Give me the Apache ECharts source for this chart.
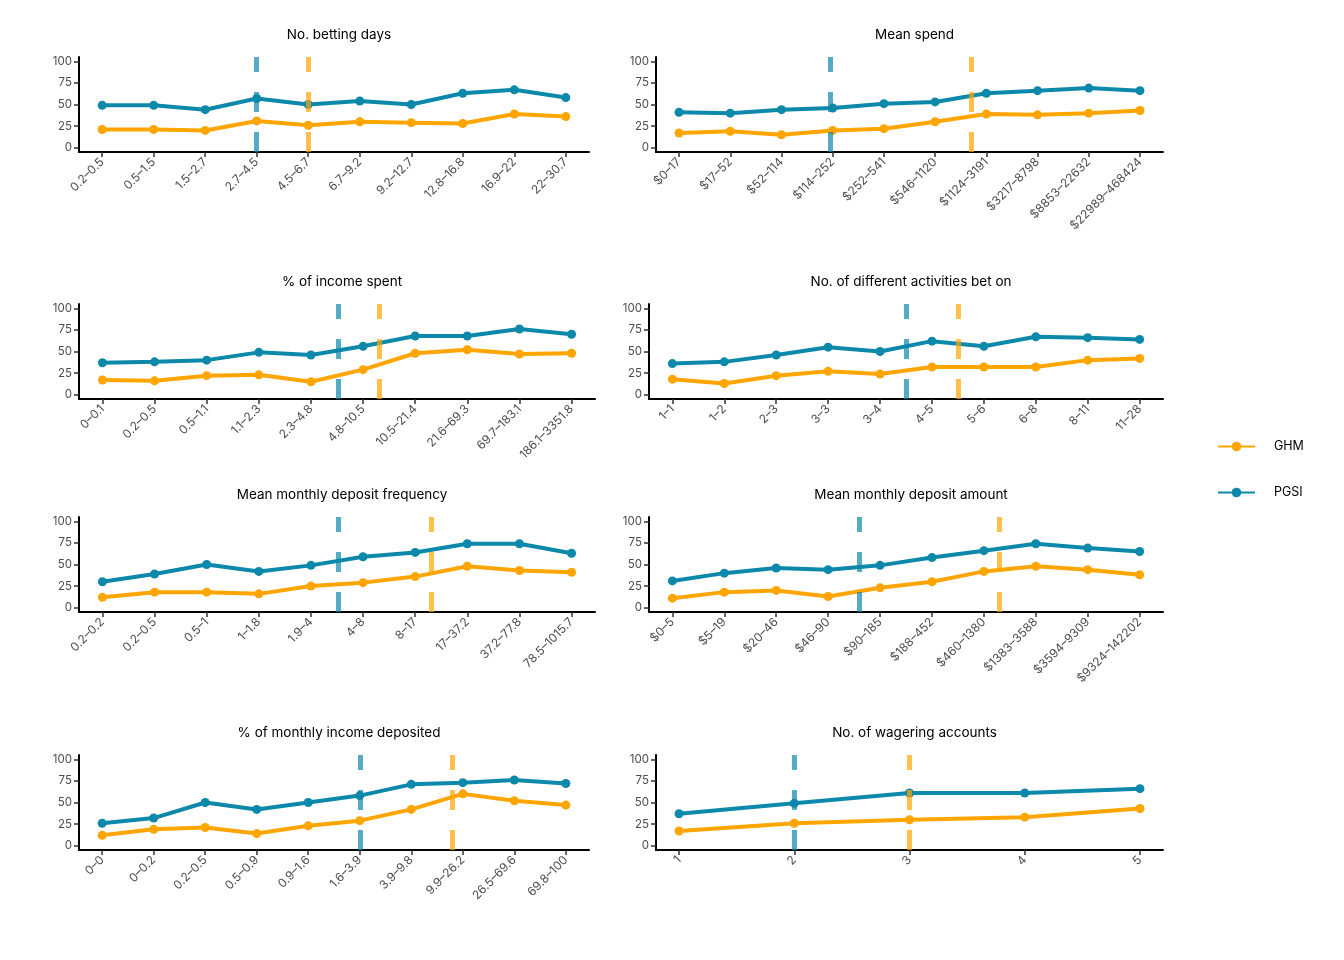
<!DOCTYPE html>
<html><head><meta charset="utf-8">
<script src="https://cdn.jsdelivr.net/npm/echarts@6/dist/echarts.min.js"></script>
<style>html,body{margin:0;padding:0;background:#fff}#c{width:1344px;height:960px}</style>
</head><body><div id="c"></div>
<script>
const titles = ["No. betting days", "Mean spend", "% of income spent", "No. of different activities bet on",
  "Mean monthly deposit frequency", "Mean monthly deposit amount", "% of monthly income deposited", "No. of wagering accounts"];

const cats1 = ["0.2–0.5","0.5–1.5","1.5–2.7","2.7–4.5","4.5–6.7","6.7–9.2","9.2–12.7","12.8–16.8","16.9–22","22–30.7"];
const cats2 = ["$0–17","$17–52","$52–114","$114–252","$252–541","$546–1120","$1124–3191","$3217–8798","$8853–22632","$22989–468424"];
const cats3 = ["0–0.1","0.2–0.5","0.5–1.1","1.1–2.3","2.3–4.8","4.8–10.5","10.5–21.4","21.6–69.3","69.7–183.1","186.1–3351.8"];
const cats4 = ["1–1","1–2","2–3","3–3","3–4","4–5","5–6","6–8","8–11","11–28"];
const cats5 = ["0.2–0.2","0.2–0.5","0.5–1","1–1.8","1.9–4","4–8","8–17","17–37.2","37.2–77.8","78.5–1015.7"];
const cats6 = ["$0–5","$5–19","$20–46","$46–90","$90–185","$188–452","$460–1380","$1383–3588","$3594–9309","$9324–142202"];
const cats7 = ["0–0","0–0.2","0.2–0.5","0.5–0.9","0.9–1.6","1.6–3.9","3.9–9.8","9.9–26.2","26.5–69.6","69.8–100"];
const cats8 = ["1","2","3","4","5"];

const pgsi1 = [49,49,44,57,50,54,50,63,67,58];
const ghm1  = [21,21,20,31,26,30,29,28,39,36];
const pgsi2 = [41,40,44,46,51,53,63,66,69,66];
const ghm2  = [17,19,15,20,22,30,39,38,40,43];
const pgsi3 = [37,38,40,49,46,56,68,68,76,70];
const ghm3  = [17,16,22,23,15,29,48,52,47,48];
const pgsi4 = [36,38,46,55,50,62,56,67,66,64];
const ghm4  = [18,13,22,27,24,32,32,32,40,42];
const pgsi5 = [30,39,50,42,49,59,64,74,74,63];
const ghm5  = [12,18,18,16,25,29,36,48,43,41];
const pgsi6 = [31,40,46,44,49,58,66,74,69,65];
const ghm6  = [11,18,20,13,23,30,42,48,44,38];
const pgsi7 = [26,32,50,42,50,58,71,73,76,72];
const ghm7  = [12,19,21,14,23,29,42,60,52,47];
const pgsi8 = [37,49,61,61,66];
const ghm8  = [17,26,30,33,43];

// cut-off positions (in category index units)
const cutPGSI = [3, 2.95, 4.52, 4.5, 4.52, 3.6, 5.0, 1];
const cutGHM  = [4, 5.7, 5.31, 5.5, 6.3, 6.3, 6.8, 2];

const yTicks = [0, 25, 50, 75, 100];

const panels = [
  {cats: cats1, pgsi: pgsi1, ghm: ghm1},
  {cats: cats2, pgsi: pgsi2, ghm: ghm2},
  {cats: cats3, pgsi: pgsi3, ghm: ghm3},
  {cats: cats4, pgsi: pgsi4, ghm: ghm4},
  {cats: cats5, pgsi: pgsi5, ghm: ghm5},
  {cats: cats6, pgsi: pgsi6, ghm: ghm6},
  {cats: cats7, pgsi: pgsi7, ghm: ghm7},
  {cats: cats8, pgsi: pgsi8, ghm: ghm8}
];

// layout: [left, top, width]
const layout = [[79,57,510],[656,57,507],[79,304,516],[649,304,514],[79,517,516],[649,517,514],[79,755,510],[656,755,507]];
const H = 95;
const FONT = 'Inter, "Noto Sans", sans-serif';
const C_GHM = '#FFA500', C_PGSI = '#0C88AA';
const C_GHM_D = 'rgba(255,165,0,0.7)', C_PGSI_D = 'rgba(12,136,170,0.7)';

const option = {
  animation: false,
  backgroundColor: '#fff',
  textStyle: {fontFamily: FONT},
  title: [], grid: [], xAxis: [], yAxis: [], series: [],
  legend: {
    data: ['GHM', 'PGSI'], orient: 'vertical', left: 1212, top: 435,
    itemWidth: 37, itemHeight: 12, itemGap: 33,
    textStyle: {fontSize: 12.5, color: '#000', fontFamily: FONT, padding: [0,0,0,14]}
  }
};

panels.forEach((p, i) => {
  const [l, t, w] = layout[i];
  const n = p.cats.length;
  const e = 0.05 * (n - 1);
  option.title.push({
    text: titles[i], left: l + w / 2, top: t - 34, textAlign: 'center',
    textStyle: {fontSize: 13.5, fontWeight: 'normal', color: '#000', fontFamily: FONT}
  });
  option.grid.push({left: l, top: t, width: w, height: H, containLabel: false});
  const idx = p.cats.map((_, k) => k);
  option.xAxis.push({
    type: 'value', gridIndex: i, min: -e, max: n - 1 + e,
    splitLine: {show: false},
    axisLine: {show: true, onZero: false, lineStyle: {color: '#000', width: 2}},
    axisTick: {show: true, customValues: idx, length: 5, lineStyle: {color: '#333', width: 1.5}},
    axisLabel: {
      customValues: idx, rotate: 45, fontSize: 12, color: '#4d4d4d', margin: 8, fontFamily: FONT,
      formatter: v => p.cats[Math.round(v)] ?? ''
    }
  });
  option.yAxis.push({
    type: 'value', gridIndex: i, min: -5, max: 105,
    splitLine: {show: false},
    axisLine: {show: true, onZero: false, lineStyle: {color: '#000', width: 2}},
    axisTick: {show: true, customValues: yTicks, length: 5, lineStyle: {color: '#333', width: 1.5}},
    axisLabel: {customValues: yTicks, fontSize: 11.5, color: '#4d4d4d', margin: 7, fontFamily: FONT}
  });
  const mk = (name, vals, color, dcolor, cut) => ({
    name, type: 'line', xAxisIndex: i, yAxisIndex: i,
    data: vals.map((v, k) => [k, v]),
    symbol: 'circle', symbolSize: 9,
    lineStyle: {color, width: 4}, itemStyle: {color},
    markLine: {
      silent: true, symbol: ['none', 'none'], label: {show: false},
      lineStyle: {color: dcolor, width: 5, type: [20, 20]},
      emphasis: {disabled: true},
      data: [{xAxis: cut}]
    }
  });
  option.series.push(mk('GHM', p.ghm, C_GHM, C_GHM_D, cutGHM[i]));
  option.series.push(mk('PGSI', p.pgsi, C_PGSI, C_PGSI_D, cutPGSI[i]));
});

const chart = echarts.init(document.getElementById('c'), null, {renderer: 'canvas'});
chart.setOption(option);
</script>
</body></html>
